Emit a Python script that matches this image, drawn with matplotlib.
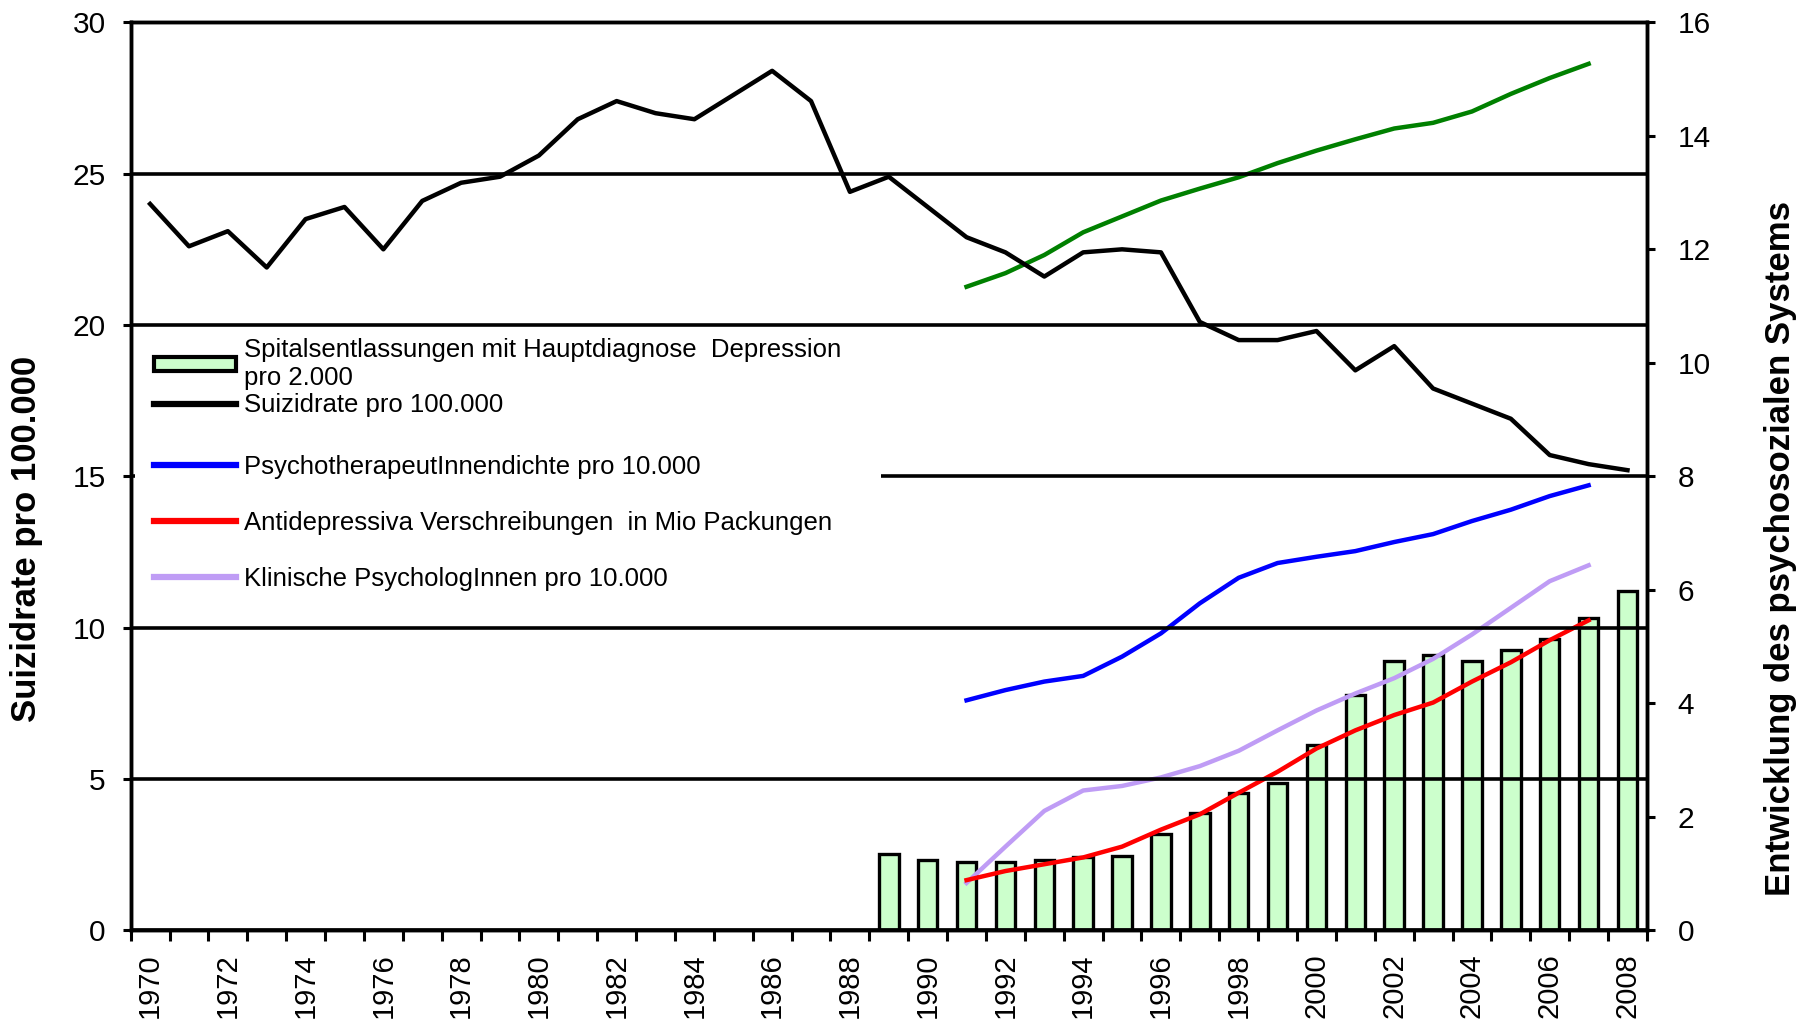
import numpy as np
import matplotlib
matplotlib.use("Agg")
from matplotlib import pyplot as plt
from matplotlib.patches import Patch, Rectangle
from matplotlib.lines import Line2D

plt.rcParams['font.family'] = ['Liberation Sans', 'DejaVu Sans']

# Daten
jahre = list(range(1970, 2009))
suizidrate = [24.0, 22.6, 23.1, 21.9, 23.5, 23.9, 22.5, 24.1, 24.7, 24.9,
              25.6, 26.8, 27.4, 27.0, 26.8, 27.6, 28.4, 27.4, 24.4, 24.9,
              23.9, 22.9, 22.4, 21.6, 22.4, 22.5, 22.4, 20.1, 19.5, 19.5,
              19.8, 18.5, 19.3, 17.9, 17.4, 16.9, 15.7, 15.4, 15.2]

jahre_bar = list(range(1989, 2009))
spital = [1.34, 1.24, 1.20, 1.20, 1.24, 1.28, 1.30, 1.69, 2.06, 2.42,
          2.59, 3.26, 4.15, 4.74, 4.84, 4.74, 4.93, 5.13, 5.50, 5.98]

jahre_lin = list(range(1991, 2008))
gruen = [11.34, 11.58, 11.90, 12.30, 12.58, 12.86, 13.07, 13.27, 13.52,
         13.74, 13.94, 14.13, 14.23, 14.43, 14.74, 15.02, 15.27]
psychotherapeuten = [4.05, 4.23, 4.38, 4.48, 4.82, 5.23, 5.76, 6.21, 6.47,
                     6.58, 6.68, 6.84, 6.98, 7.21, 7.41, 7.65, 7.84]
antidepressiva = [0.88, 1.04, 1.16, 1.28, 1.47, 1.77, 2.04, 2.42, 2.79,
                  3.20, 3.52, 3.79, 4.01, 4.38, 4.72, 5.11, 5.46]
psychologen = [0.83, 1.47, 2.10, 2.46, 2.54, 2.69, 2.89, 3.16, 3.52,
               3.87, 4.17, 4.44, 4.78, 5.21, 5.68, 6.15, 6.43]

labels = ['Spitalsentlassungen mit Hauptdiagnose  Depression\npro 2.000',
          'Suizidrate pro 100.000',
          'PsychotherapeutInnendichte pro 10.000',
          'Antidepressiva Verschreibungen  in Mio Packungen',
          'Klinische PsychologInnen pro 10.000']

c_bar = '#ccffcc'
c_gruen = '#008000'
c_blau = '#0000ff'
c_rot = '#ff0000'
c_lila = '#bf9cf5'

fig = plt.figure(figsize=(18.12, 10.19), dpi=100)
ax = fig.add_axes([0.0721, 0.0873, 0.9089 - 0.0721, 0.978 - 0.0873])
ax2 = ax.twinx()

# rechte Achse: Balken und farbige Linien
ax2.bar(jahre_bar, spital, width=0.5, color=c_bar, edgecolor='black', linewidth=2.4)
ax2.plot(jahre_lin, gruen, color=c_gruen, lw=3.2)
ax2.plot(jahre_lin, psychotherapeuten, color=c_blau, lw=3.2)
ax2.plot(jahre_lin, psychologen, color=c_lila, lw=3.2)
ax2.plot(jahre_lin, antidepressiva, color=c_rot, lw=3.2)
ax2.set_ylim(0, 16)
ax2.set_yticks(range(0, 17, 2))

# linke Achse: Suizidrate, liegt oben (Gitterlinien über Balken)
ax.set_zorder(ax2.get_zorder() + 1)
ax.patch.set_visible(False)
ax.plot(jahre, suizidrate, color='black', lw=3.2)
ax.set_ylim(0, 30)
ax.set_yticks(range(0, 31, 5))
ax.set_xlim(1969.5, 2008.5)
ax.set_xticks(range(1970, 2009, 2))
ax.set_xticks(np.arange(1969.5, 2009, 1), minor=True)
ax.tick_params(axis='x', which='major', length=0, labelsize=21, labelrotation=90, pad=17)
ax.tick_params(axis='x', which='minor', length=8, width=2.2, direction='out')
ax.tick_params(axis='y', labelsize=21.5, length=6, width=2.2, direction='out', pad=12)
ax2.tick_params(axis='y', labelsize=21.5, length=6, width=2.2, direction='out', pad=16)
ax.grid(axis='y', color='black', lw=2.6)
ax.set_axisbelow(False)

for a in (ax, ax2):
    for s in a.spines.values():
        s.set_linewidth(2.5)

ax.set_ylabel('Suizidrate pro 100.000', fontsize=25, fontweight='bold')
ax.yaxis.set_label_coords(-0.058, 0.431)
ax2.set_ylabel('Entwicklung des psychosozialen Systems', fontsize=25, fontweight='bold')
ax2.yaxis.set_label_coords(1.0775, 0.42)

# weisser Hintergrund hinter der Legende (verdeckt Gitterlinie bei 15)
ax.add_patch(Rectangle((0.003, 0.47), 0.492, 0.06, transform=ax.transAxes,
                       facecolor='white', edgecolor='none', zorder=3))

# Legende
h_bar = Patch(facecolor=c_bar, edgecolor='black', linewidth=3)
h_schwarz = Line2D([], [], color='black', lw=4.5)
h_blau = Line2D([], [], color=c_blau, lw=4.5)
h_rot = Line2D([], [], color=c_rot, lw=4.5)
h_lila = Line2D([], [], color=c_lila, lw=4.5)

leg1 = ax.legend([h_bar, h_schwarz], labels[:2], loc='upper left',
                 bbox_to_anchor=(0.012, 0.658), fontsize=18.5, frameon=False,
                 handlelength=3.2, handleheight=0.45, handletextpad=0.3,
                 labelspacing=0.12, borderaxespad=0, borderpad=0.2)
ax.add_artist(leg1)
leg2 = ax.legend([h_blau, h_rot, h_lila], labels[2:], loc='upper left',
                 bbox_to_anchor=(0.012, 0.529), fontsize=18.5, frameon=False,
                 handlelength=3.2, handletextpad=0.3, labelspacing=1.25,
                 borderaxespad=0, borderpad=0.2)

plt.savefig('out.png', dpi=100)
